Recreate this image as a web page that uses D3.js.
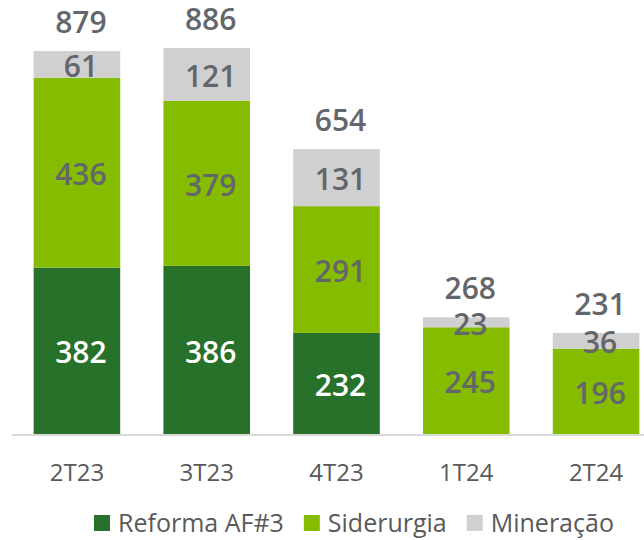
<!DOCTYPE html>
<html>
<head>
<meta charset="utf-8">
<script src="https://cdn.jsdelivr.net/npm/d3@7.9.0/dist/d3.min.js"></script>
<style>
  html, body { margin: 0; padding: 0; background: #fff; }
  svg { display: block; font-family: "Open Sans", "Noto Sans", sans-serif; }
</style>
</head>
<body>
<svg id="chart" width="644" height="540"></svg>
<script>
// values
const categories = ['2T23', '3T23', '4T23', '1T24', '2T24'];
const reforma    = [382, 386, 232, 0, 0];
const siderurgia = [436, 379, 291, 245, 196];
const mineracao  = [61, 121, 131, 23, 36];
const totals     = [879, 886, 654, 268, 231];
const seriesNames = ['Reforma AF#3', 'Siderurgia', 'Mineração'];

const colors = ['#27712a', '#86bc00', '#d0d0d0'];
const labelColors = ['#ffffff', '#63666a', '#63666a'];

const svg = d3.select('#chart');
const baseY = 434;

const x = d3.scaleBand().domain(categories).range([12, 661]).paddingInner(0.333).paddingOuter(0.1667);
const y = d3.scaleLinear().domain([0, 886]).range([baseY, 48]);

const rows = categories.map((c, i) => ({ cat: c, r: reforma[i], s: siderurgia[i], m: mineracao[i] }));
const stack = d3.stack().keys(['r', 's', 'm'])(rows);

const layers = svg.append('g').selectAll('g').data(stack).enter().append('g')
  .attr('fill', (d, i) => colors[i]);

layers.selectAll('rect').data(d => d).enter().append('rect')
  .attr('x', d => x(d.data.cat))
  .attr('width', x.bandwidth())
  .attr('y', d => y(d[1]))
  .attr('height', d => y(d[0]) - y(d[1]));

// segment labels
stack.forEach((layer, li) => {
  svg.append('g').selectAll('text').data(layer.filter(d => d[1] - d[0] > 0)).enter().append('text')
    .attr('x', d => x(d.data.cat) + x.bandwidth() / 2 + 4)
    .attr('y', d => (y(d[0]) + y(d[1])) / 2)
    .attr('dy', '0.42em')
    .attr('text-anchor', 'middle')
    .attr('font-size', 30).attr('font-weight', 600)
    .attr('fill', labelColors[li])
    .text(d => d[1] - d[0]);
});

// totals
svg.append('g').selectAll('text').data(categories).enter().append('text')
  .attr('x', c => x(c) + x.bandwidth() / 2 + 4)
  .attr('y', (c, i) => y(reforma[i] + siderurgia[i] + mineracao[i]) - 18)
  .attr('text-anchor', 'middle')
  .attr('font-size', 30).attr('font-weight', 600)
  .attr('fill', '#63666a')
  .text((c, i) => totals[i]);

// x axis
const xAxis = svg.append('g').attr('transform', `translate(0,${baseY})`)
  .call(d3.axisBottom(x).tickSize(0).tickPadding(30));
xAxis.select('.domain').remove();
xAxis.append('line').attr('x1', 12).attr('x2', 644).attr('y1', 1).attr('y2', 1)
  .attr('stroke', '#d9d9d9').attr('stroke-width', 2);
xAxis.selectAll('.tick text')
  .attr('font-size', 24).attr('font-family', '"Open Sans", sans-serif')
  .attr('fill', '#595959');

// legend
const legend = svg.append('g').attr('transform', 'translate(94,523)');
let lx = 0;
seriesNames.forEach((name, i) => {
  const g = legend.append('g').attr('transform', `translate(${lx},0)`);
  g.append('rect').attr('x', 0).attr('y', -8).attr('width', 16).attr('height', 16).attr('fill', colors[i]);
  const t = g.append('text').attr('x', 24).attr('dy', '0.36em')
    .attr('font-size', 25).attr('fill', '#595959').text(name);
  lx += 24 + t.node().getComputedTextLength() + 20;
});
</script>
</body>
</html>
